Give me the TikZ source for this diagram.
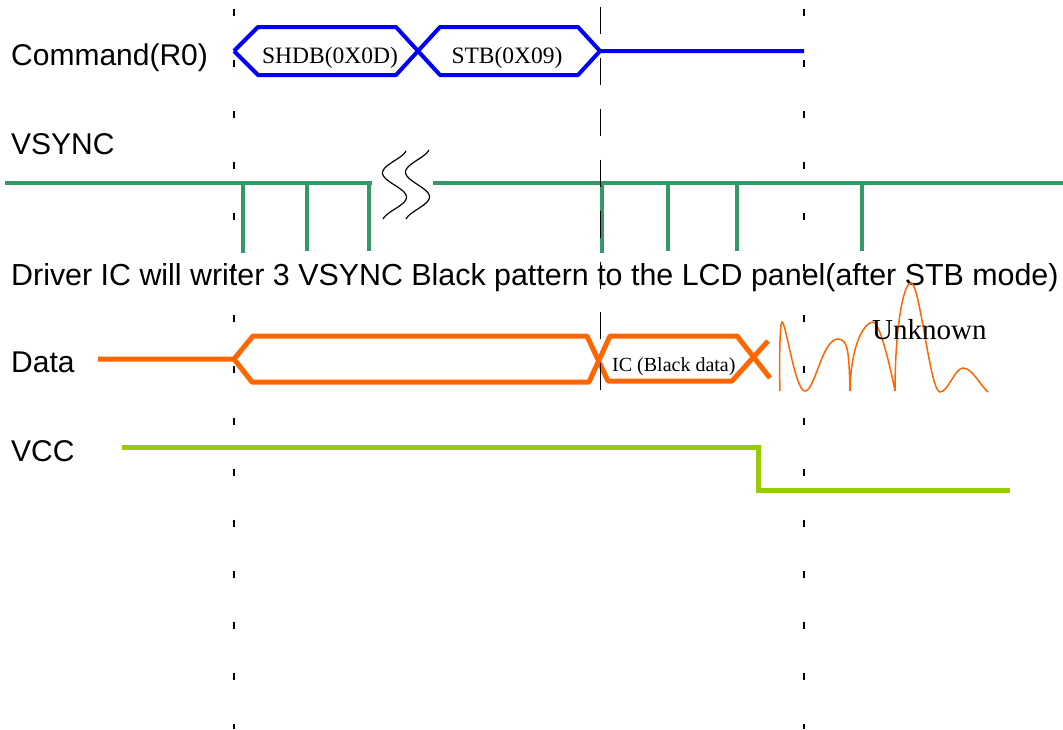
\documentclass[tikz,border=0pt]{standalone}
\usepackage{fontspec}
\setmainfont{Liberation Serif}
\newfontfamily\sigsans{Liberation Sans}
\definecolor{cmdblue}{RGB}{0,0,255}
\definecolor{syncgreen}{RGB}{51,153,102}
\definecolor{dataorange}{RGB}{255,102,0}
\definecolor{vcclime}{RGB}{153,204,0}
\tikzset{
  signame/.style={font=\sigsans\fontsize{30}{36}\selectfont, anchor=base west, inner sep=0pt},
  busword/.style={font=\fontsize{23.5}{28}\selectfont, anchor=base, inner sep=0pt},
  cmdline/.style={draw=cmdblue, line width=4pt, line join=round},
  syncline/.style={draw=syncgreen, line width=4.5pt},
  dataline/.style={draw=dataorange, line width=5pt, line join=round},
  noiseline/.style={draw=dataorange, line width=1.5pt},
  vccline/.style={draw=vcclime, line width=5pt},
  guidedot/.style={draw=black, line width=1.6pt, dash pattern=on 7pt off 44.07pt},
  guidedash/.style={draw=black, line width=1pt, dash pattern=on 27pt off 23.9pt},
  breakmark/.style={draw=black, line width=1.2pt}
}
\begin{document}
\begin{tikzpicture}[x=1pt, y=-1pt]
\useasboundingbox (0,0) rectangle (1063,729);

% signal names
\node[signame] (lblcmd)  at (11,65)  {Command(R0)};
\node[signame] (lblsync) at (11,154) {VSYNC};
\node[signame, font=\sigsans\fontsize{30.4}{36}\selectfont] (note) at (11,285)
  {Driver IC will writer 3 VSYNC Black pattern to the LCD panel(after STB mode)};
\node[signame] (lbldata) at (11,372) {Data};
\node[signame] (lblvcc)  at (11,461) {VCC};

% command bus
\draw[cmdline] (234,51) -- (258,27) -- (396,27) -- (440,75) -- (578,75) -- (600,51) -- (804,51);
\draw[cmdline] (234,51) -- (258,75) -- (396,75) -- (440,27) -- (578,27) -- (600,51);
\node[busword] (shdb) at (330,63) {SHDB(0X0D)};
\node[busword] (stb)  at (507,63) {STB(0X09)};

% VSYNC with break
\draw[syncline] (5,183) -- (372,183);
\draw[syncline] (243,183) -- (243,253);
\draw[syncline] (307,183) -- (307,251);
\draw[syncline] (369,183) -- (369,251);
\draw[syncline] (433,183) -- (1063,183);
\draw[syncline] (602,183) -- (602,253);
\draw[syncline] (668,183) -- (668,251);
\draw[syncline] (737,183) -- (737,251);
\draw[syncline] (862,183) -- (862,251);
\draw[breakmark] plot[domain=-0.4:2.4, samples=50, smooth] ({394.5-12*sin(\x*180)}, {151+(\x+0.4)/2.8*68});
\draw[breakmark] plot[domain=-0.4:2.4, samples=50, smooth] ({417.5-12*sin(\x*180)}, {150+(\x+0.4)/2.8*69});

% data bus
\draw[dataline] (98,359) -- (234,359) -- (253,336) -- (587,336) -- (608,381) -- (732,381) -- (768,341);
\draw[dataline] (234,359) -- (252,382) -- (589,382) -- (610,336) -- (737,336) -- (770,378);
\node[busword, font=\fontsize{20}{24}\selectfont, anchor=base west] (icblack) at (612,371) {IC (Black data)};

% undefined data afterwards
\draw[noiseline] (780,391)
  .. controls (779,360) and (780,322) .. (782,322)
  .. controls (786,322) and (795,391) .. (805,391)
  .. controls (815,391) and (822,339) .. (838,339)
  .. controls (848,339) and (849,352) .. (850,391)
  .. controls (851,340) and (866,322) .. (873,322)
  .. controls (880,322) and (891,370) .. (895,391)
  .. controls (895,330) and (903,283) .. (911,283)
  .. controls (920,283) and (930,392) .. (940,392)
  .. controls (948,392) and (955,368) .. (963,368)
  .. controls (972,368) and (980,385) .. (988,392);
\node[busword, font=\fontsize{29}{34}\selectfont, anchor=base west] (unknown) at (872,339) {Unknown};

% VCC
\draw[vccline] (122,447) -- (758,447) -- (758,490) -- (1010,490);

% timing guides
\draw[guidedot] (234,9) -- (234,729);
\draw[guidedot] (804,9) -- (804,729);
\draw[guidedash] (600,7) -- (600,392);
\end{tikzpicture}
\end{document}
